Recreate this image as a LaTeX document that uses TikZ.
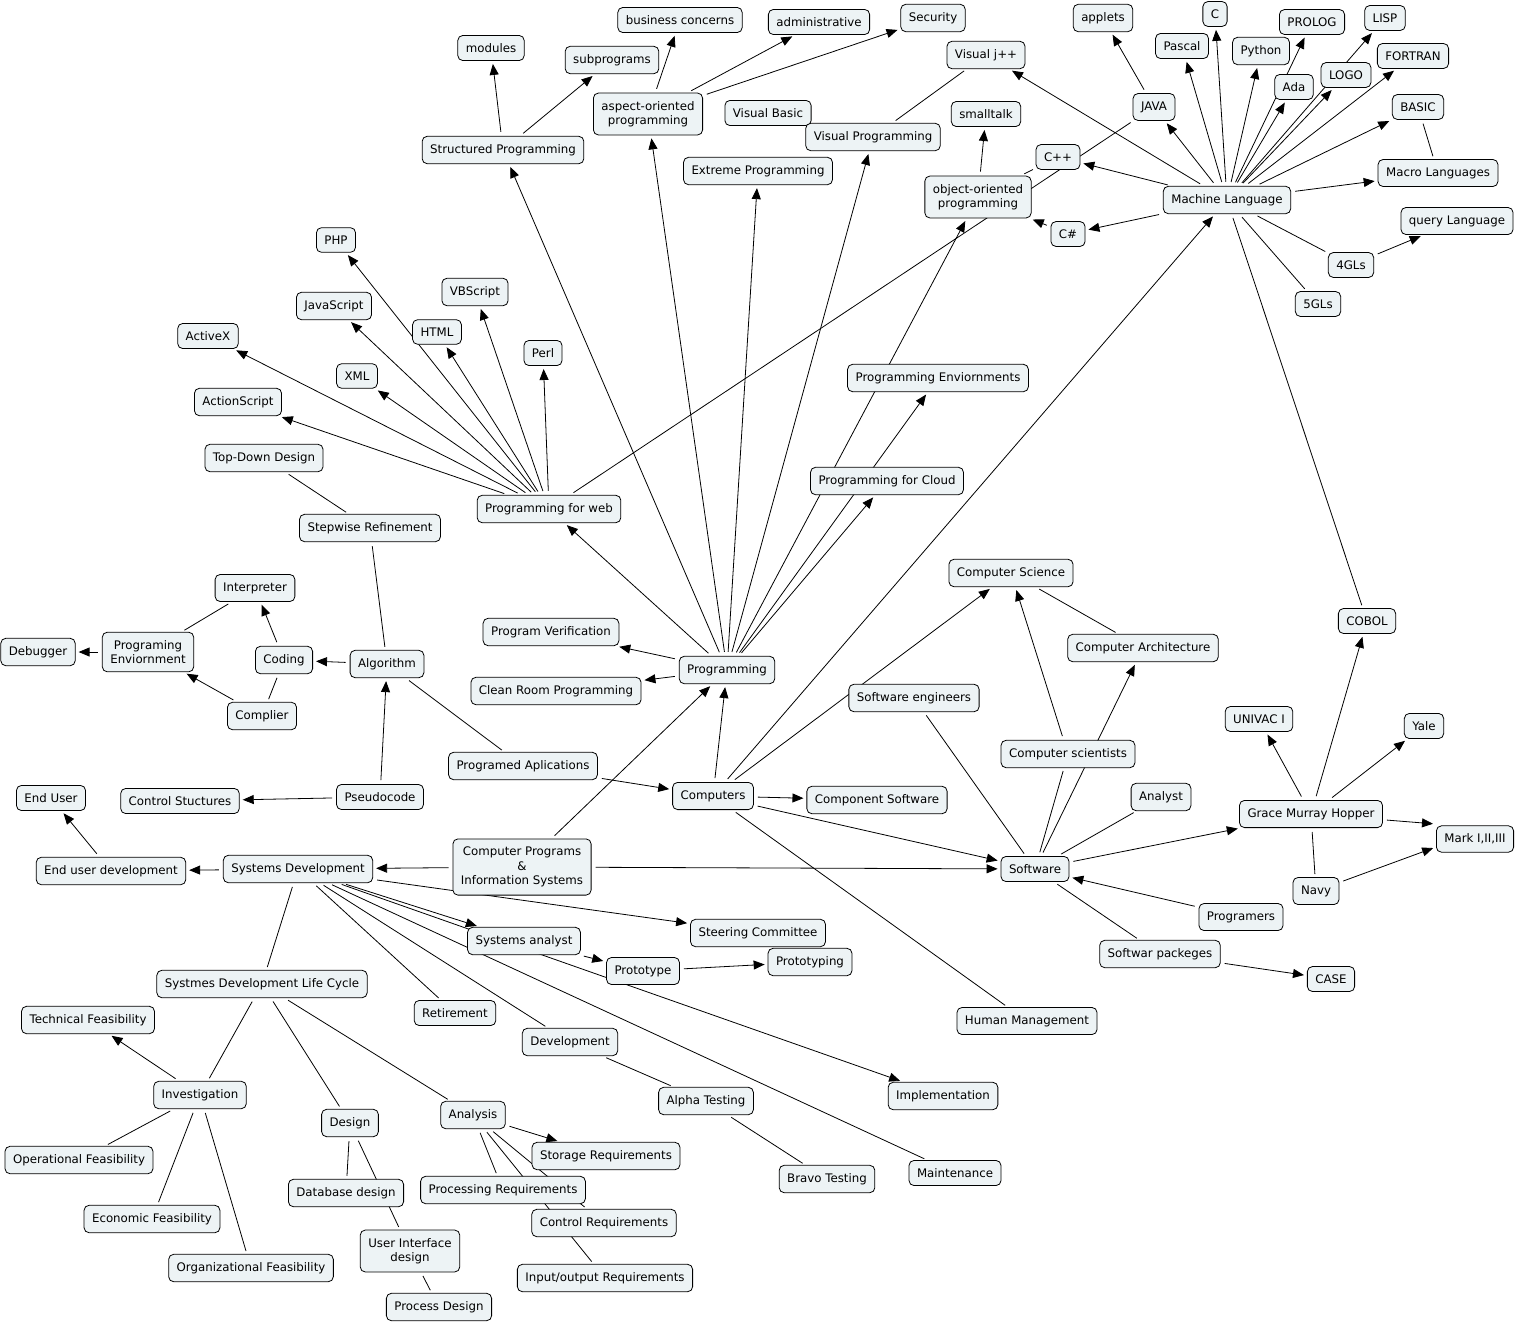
\documentclass[tikz,border=0pt]{standalone}
\usepackage{fontspec}
\setmainfont{DejaVu Sans}
\usepackage{tikz}
\usetikzlibrary{arrows.meta,backgrounds}
\definecolor{cmapfill}{RGB}{237,243,245}
\newcommand{\mapfont}{\fontsize{11.8}{14.5}\selectfont}
\begin{document}
\begin{tikzpicture}[x=1pt,y=-1pt,
		concept/.style={draw,fill=cmapfill,rounded corners=5pt,line width=0.8pt,
			inner xsep=8pt,inner ysep=8pt,align=center,font=\mapfont},
		>={Triangle[length=11pt,width=9pt]},
		every edge/.append style={line width=0.8pt,shorten >=3pt,shorten <=4pt}]
	\useasboundingbox (0,0) rectangle (1523,1323);
	\node[concept] (mod) at (491,48) {modules};
	\node[concept] (subp) at (612,60) {subprograms};
	\node[concept] (busc) at (680,20) {business concerns};
	\node[concept] (admin) at (819,22) {administrative};
	\node[concept] (secu) at (933,18) {Security};
	\node[concept] (vjpp) at (986,55) {Visual j++};
	\node[concept] (appl) at (1103,18) {applets};
	\node[concept] (clang) at (1215,14) {C};
	\node[concept] (pasc) at (1182,46) {Pascal};
	\node[concept] (prol) at (1312,22) {PROLOG};
	\node[concept] (pyth) at (1261,51) {Python};
	\node[concept] (lisp) at (1385,18) {LISP};
	\node[concept] (fort) at (1413,56) {FORTRAN};
	\node[concept] (ada) at (1294,87) {Ada};
	\node[concept] (logo) at (1346,75) {LOGO};
	\node[concept] (basic) at (1418,107) {BASIC};
	\node[concept] (java) at (1154,107) {JAVA};
	\node[concept] (aop) at (648,114) {aspect-oriented\\programming};
	\node[concept] (vbas) at (768,113) {Visual Basic};
	\node[concept] (vprog) at (873,137) {Visual Programming};
	\node[concept] (stalk) at (986,114) {smalltalk};
	\node[concept] (struct) at (503,150) {Structured Programming};
	\node[concept] (xprog) at (758,171) {Extreme Programming};
	\node[concept] (cpp) at (1058,157) {C++};
	\node[concept] (oop) at (978,197) {object-oriented\\programming};
	\node[concept] (mlang) at (1227,200) {Machine Language};
	\node[concept] (macro) at (1438,173) {Macro Languages};
	\node[concept] (csharp) at (1068,234) {C\#};
	\node[concept] (query) at (1457,221) {query Language};
	\node[concept] (gl4) at (1351,265) {4GLs};
	\node[concept] (gl5) at (1318,304) {5GLs};
	\node[concept] (php) at (336,240) {PHP};
	\node[concept] (js) at (334,306) {JavaScript};
	\node[concept] (vbs) at (475,292) {VBScript};
	\node[concept] (html) at (437,332) {HTML};
	\node[concept] (actx) at (208,336) {ActiveX};
	\node[concept] (xml) at (357,376) {XML};
	\node[concept] (perl) at (543,353) {Perl};
	\node[concept] (acts) at (238,402) {ActionScript};
	\node[concept] (penvs) at (938,378) {Programming Enviornments};
	\node[concept] (topd) at (264,458) {Top-Down Design};
	\node[concept] (pcloud) at (887,481) {Programming for Cloud};
	\node[concept] (pweb) at (549,509) {Programming for web};
	\node[concept] (stepw) at (370,528) {Stepwise Refinement};
	\node[concept] (csci) at (1011,573) {Computer Science};
	\node[concept] (interp) at (255,588) {Interpreter};
	\node[concept] (pverif) at (551,632) {Program Verification};
	\node[concept] (cobol) at (1367,621) {COBOL};
	\node[concept] (carch) at (1143,648) {Computer Architecture};
	\node[concept] (debug) at (38,652) {Debugger};
	\node[concept] (penv) at (148,652) {Programing\\Enviornment};
	\node[concept] (coding) at (284,660) {Coding};
	\node[concept] (algo) at (387,664) {Algorithm};
	\node[concept] (prog) at (727,670) {Programming};
	\node[concept] (croom) at (556,691) {Clean Room Programming};
	\node[concept] (seng) at (914,698) {Software engineers};
	\node[concept] (univac) at (1259,719) {UNIVAC I};
	\node[concept] (yale) at (1424,726) {Yale};
	\node[concept] (cscis) at (1068,754) {Computer scientists};
	\node[concept] (papps) at (523,766) {Programed Aplications};
	\node[concept] (comp) at (713,796) {Computers};
	\node[concept] (compsw) at (877,800) {Component Software};
	\node[concept] (anlst) at (1161,797) {Analyst};
	\node[concept] (gmh) at (1311,814) {Grace Murray Hopper};
	\node[concept] (compl) at (262,716) {Complier};
	\node[concept] (pseudo) at (380,797) {Pseudocode};
	\node[concept] (ctrl) at (180,801) {Control Stuctures};
	\node[concept] (euser) at (51,798) {End User};
	\node[concept] (mark) at (1475,839) {Mark I,II,III};
	\node[concept] (cpis) at (522,867) {Computer Programs\\\&\\Information Systems};
	\node[concept] (eudev) at (111,871) {End user development};
	\node[concept] (sdev) at (298,869) {Systems Development};
	\node[concept] (softw) at (1035,869) {Software};
	\node[concept] (navy) at (1316,891) {Navy};
	\node[concept] (progr) at (1241,917) {Programers};
	\node[concept] (steer) at (758,933) {Steering Committee};
	\node[concept] (sanal) at (524,941) {Systems analyst};
	\node[concept] (swpack) at (1160,954) {Softwar packeges};
	\node[concept] (proto) at (643,971) {Prototype};
	\node[concept] (protog) at (810,962) {Prototyping};
	\node[concept] (case) at (1331,979) {CASE};
	\node[concept] (sdlc) at (262,984) {Systmes Development Life Cycle};
	\node[concept] (retire) at (455,1013) {Retirement};
	\node[concept] (techf) at (88,1020) {Technical Feasibility};
	\node[concept] (hman) at (1027,1021) {Human Management};
	\node[concept] (devel) at (570,1042) {Development};
	\node[concept] (invest) at (200,1095) {Investigation};
	\node[concept] (impl) at (943,1096) {Implementation};
	\node[concept] (alpha) at (706,1101) {Alpha Testing};
	\node[concept] (analys) at (473,1115) {Analysis};
	\node[concept] (design) at (350,1123) {Design};
	\node[concept] (storq) at (606,1156) {Storage Requirements};
	\node[concept] (opf) at (79,1160) {Operational Feasibility};
	\node[concept] (maint) at (955,1173) {Maintenance};
	\node[concept] (bravo) at (827,1179) {Bravo Testing};
	\node[concept] (procq) at (503,1190) {Processing Requirements};
	\node[concept] (dbd) at (346,1193) {Database design};
	\node[concept] (ecof) at (152,1219) {Economic Feasibility};
	\node[concept] (ctrlq) at (604,1223) {Control Requirements};
	\node[concept] (uid) at (410,1251) {User Interface\\design};
	\node[concept] (orgf) at (251,1268) {Organizational Feasibility};
	\node[concept] (ioq) at (605,1278) {Input/output Requirements};
	\node[concept] (procd) at (439,1307) {Process Design};
	\begin{pgfonlayer}{background}
		\path[->]
		(struct) edge (mod) edge (subp)
		(aop) edge (busc) edge (admin) edge (secu)
		(vprog) edge[-] (vjpp)
		(oop) edge (stalk) edge[-] (cpp)
		(csharp) edge (oop)
		(java) edge (appl)
		(mlang) edge (vjpp) edge (java) edge (pasc) edge (clang) edge (pyth) edge (ada)
		edge (prol) edge (logo) edge (lisp) edge (fort) edge (basic) edge (macro)
		edge (cpp) edge (csharp) edge[-] (gl4) edge[-] (gl5) edge[-] (cobol)
		(basic) edge[-] (macro)
		(gl4) edge (query)
		(pweb) edge (actx) edge (acts) edge (xml) edge (js) edge (php) edge (html)
		edge (vbs) edge (perl) edge[-] (java)
		(prog) edge (pweb) edge (struct) edge (aop) edge (xprog) edge (vprog) edge (oop)
		edge (penvs) edge (pcloud) edge (pverif) edge (croom)
		(topd) edge[-] (stepw)
		(stepw) edge[-] (algo)
		(algo) edge (coding) edge[-] (papps)
		(coding) edge (interp) edge[-] (compl)
		(interp) edge[-] (penv)
		(compl) edge (penv)
		(penv) edge (debug)
		(pseudo) edge (algo) edge (ctrl)
		(papps) edge (comp)
		(comp) edge (prog) edge (compsw) edge (softw) edge[-] (hman) edge (mlang) edge (csci)
		(seng) edge[-] (softw)
		(csci) edge[-] (carch)
		(cscis) edge (csci)
		(softw) edge[-] (cscis) edge (carch) edge[-] (anlst) edge (gmh) edge[-] (swpack)
		(progr) edge (softw)
		(swpack) edge (case)
		(gmh) edge (cobol) edge (univac) edge (yale) edge ([yshift=15pt]mark.west) edge[-] (navy)
		(navy) edge ([yshift=-8pt]mark.west)
		(cpis) edge (prog) edge (sdev) edge (softw)
		(sdev) edge (eudev) edge (steer) edge (sanal) edge (impl) edge[-] (maint)
		edge[-] (devel) edge[-] (retire) edge[-] (sdlc)
		(eudev) edge (euser)
		(sanal) edge (proto)
		(proto) edge (protog)
		(sdlc) edge[-] (invest) edge[-] (design) edge[-] (analys)
		(invest) edge (techf) edge[-] (opf) edge[-] (ecof) edge[-] (orgf)
		(design) edge[-] (dbd) edge[-] (uid)
		(uid) edge[-] (procd)
		(analys) edge (storq) edge[-] (procq) edge[-] (ctrlq) edge[-] (ioq)
		(devel) edge[-] (alpha)
		(alpha) edge[-] (bravo);
	\end{pgfonlayer}
\end{tikzpicture}
\end{document}
